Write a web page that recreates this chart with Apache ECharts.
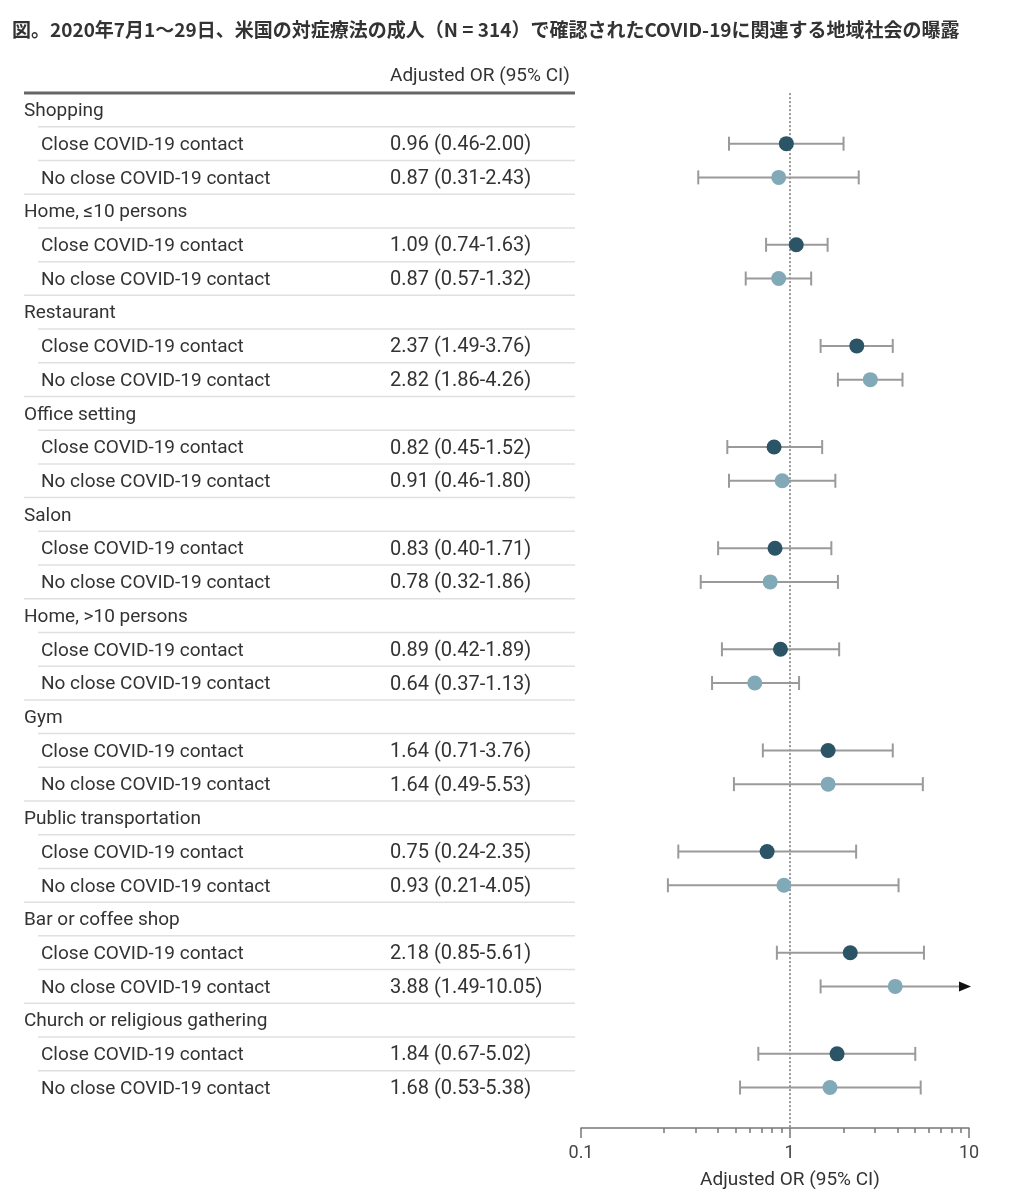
<!DOCTYPE html>
<html>
<head>
<meta charset="utf-8">
<script src="https://cdn.jsdelivr.net/npm/echarts@6/dist/echarts.min.js"></script>
<style>
  html, body { margin: 0; padding: 0; background: #fff; }
  #chart { width: 1020px; height: 1200px; }
</style>
</head>
<body>
<div id="chart"></div>
<script>
const titleText = '図。2020年7月1～29日、米国の対症療法の成人（N = 314）で確認されたCOVID-19に関連する地域社会の曝露';
const headerText = 'Adjusted OR (95% CI)';
const subLabels = ['Close COVID-19 contact', 'No close COVID-19 contact'];

const groups = ['Shopping', 'Home, ≤10 persons', 'Restaurant', 'Office setting', 'Salon',
  'Home, >10 persons', 'Gym', 'Public transportation', 'Bar or coffee shop', 'Church or religious gathering'];

const closeOR = [0.96, 1.09, 2.37, 0.82, 0.83, 0.89, 1.64, 0.75, 2.18, 1.84];
const closeLo = [0.46, 0.74, 1.49, 0.45, 0.40, 0.42, 0.71, 0.24, 0.85, 0.67];
const closeHi = [2.00, 1.63, 3.76, 1.52, 1.71, 1.89, 3.76, 2.35, 5.61, 5.02];

const noCloseOR = [0.87, 0.87, 2.82, 0.91, 0.78, 0.64, 1.64, 0.93, 3.88, 1.68];
const noCloseLo = [0.31, 0.57, 1.86, 0.46, 0.32, 0.37, 0.49, 0.21, 1.49, 0.53];
const noCloseHi = [2.43, 1.32, 4.26, 1.80, 1.86, 1.13, 5.53, 4.05, 10.05, 5.38];

// axis: left end is labelled 0.1 in the figure (broken axis), then log ticks
const axisLabels = ['0.1', '1', '10'];
const minorTicks = [0.2, 0.3, 0.4, 0.5, 0.6, 0.7, 0.8, 0.9, 2, 3, 4, 5, 6, 7, 8, 9];
const axisMinLog = -1.162;
const axisMaxLog = 1;

const DARK = '#2b5566';
const LIGHT = '#82a9b8';
const FONT = 'Roboto';

const fmt = v => v.toFixed(2);
const lg = v => Math.log10(v);

// table rows: group header, close, no close
const rows = [];
groups.forEach((g, i) => {
  rows.push({ kind: 'group', label: g, value: '' });
  rows.push({ kind: 'sub', label: subLabels[0], value: `${fmt(closeOR[i])} (${fmt(closeLo[i])}-${fmt(closeHi[i])})` });
  rows.push({ kind: 'last', label: subLabels[1], value: `${fmt(noCloseOR[i])} (${fmt(noCloseLo[i])}-${fmt(noCloseHi[i])})` });
});
const nRows = rows.length;

const closeRows = groups.map((g, i) => i * 3 + 1);
const noCloseRows = groups.map((g, i) => i * 3 + 2);

const errData = [];
groups.forEach((g, i) => {
  errData.push([lg(closeLo[i]), lg(closeHi[i]), closeRows[i]]);
  errData.push([lg(noCloseLo[i]), lg(noCloseHi[i]), noCloseRows[i]]);
});

const chart = echarts.init(document.getElementById('chart'));

function renderTable(params, api) {
  const i = params.dataIndex;
  const y = api.coord([axisMinLog, i])[1] + 1.5;
  const yNext = api.coord([axisMinLog, i + 0.5])[1];
  const yPrev = api.coord([axisMinLog, i - 0.5])[1];
  const yHead = api.coord([axisMinLog, i - 1])[1];
  const r = rows[i];
  const children = [];
  const textEl = (x, txt, size) => ({
    type: 'text',
    style: { x: x, y: y, text: txt, fill: '#333', font: `${size}px ${FONT}`, textVerticalAlign: 'middle', textAlign: 'left' }
  });
  children.push(textEl(r.kind === 'group' ? 24 : 41, r.label, 19));
  if (r.value) children.push(textEl(390, r.value, 20));
  if (i < nRows - 1) {
    children.push({
      type: 'line',
      shape: { x1: r.kind === 'last' ? 24 : 38, y1: yNext, x2: 575, y2: yNext },
      style: { stroke: '#e0e0e0', lineWidth: 1.5 }
    });
  }
  if (i === 0) {
    children.push({
      type: 'line',
      shape: { x1: 24, y1: yPrev, x2: 575, y2: yPrev },
      style: { stroke: '#666', lineWidth: 3 }
    });
    children.push({
      type: 'text',
      style: { x: 390, y: yHead, text: headerText, fill: '#333', font: `19px ${FONT}`, textVerticalAlign: 'middle', textAlign: 'left' }
    });
  }
  return { type: 'group', children: children };
}

function renderErr(params, api) {
  const lo = api.value(0);
  const hi = api.value(1);
  const row = api.value(2);
  const p1 = api.coord([lo, row]);
  const over = hi > axisMaxLog;
  const p2 = api.coord([Math.min(hi, axisMaxLog), row]);
  const h = 7;
  const st = { stroke: '#9a9a9a', lineWidth: 2 };
  const children = [
    { type: 'line', shape: { x1: p1[0], y1: p1[1], x2: p2[0] - (over ? 8 : 0), y2: p2[1] }, style: st },
    { type: 'line', shape: { x1: p1[0], y1: p1[1] - h, x2: p1[0], y2: p1[1] + h }, style: st }
  ];
  if (over) {
    children.push({
      type: 'polygon',
      shape: { points: [[p2[0] + 2, p2[1]], [p2[0] - 10, p2[1] - 5], [p2[0] - 10, p2[1] + 5]] },
      style: { fill: '#111' }
    });
  } else {
    children.push({ type: 'line', shape: { x1: p2[0], y1: p2[1] - h, x2: p2[0], y2: p2[1] + h }, style: st });
  }
  return { type: 'group', children: children };
}

chart.setOption({
  animation: false,
  graphic: [{
    type: 'text',
    left: 12,
    top: 20,
    style: { text: titleText, fill: '#333', font: 'bold 19px "Noto Sans CJK JP"' }
  }],
  grid: { left: 581, right: 51, top: 93.1, bottom: 72 },
  xAxis: [{
    type: 'value',
    position: 'bottom',
    min: axisMinLog,
    max: axisMaxLog,
    splitLine: { show: false },
    axisLine: { show: true, onZero: false, lineStyle: { color: '#777', width: 1.5 } },
    axisTick: { show: true, length: 5, customValues: minorTicks.map(lg), lineStyle: { color: '#777', width: 1.5 } },
    axisLabel: { show: false },
    name: headerText,
    nameLocation: 'middle',
    nameGap: 43,
    nameTextStyle: { color: '#333', fontSize: 19, fontFamily: FONT, padding: [0, 0, 0, 30] }
  }, {
    type: 'value',
    position: 'bottom',
    min: axisMinLog,
    max: axisMaxLog,
    splitLine: { show: false },
    axisLine: { show: false, onZero: false },
    axisTick: { show: true, length: 10, customValues: [axisMinLog, 0, 1], lineStyle: { color: '#777', width: 1.5 } },
    axisLabel: {
      show: true,
      customValues: [axisMinLog, 0, 1],
      margin: 16,
      color: '#444',
      fontSize: 18,
      fontFamily: FONT,
      formatter: v => v < -1.05 ? axisLabels[0] : (Math.abs(v) < 1e-6 ? axisLabels[1] : axisLabels[2])
    }
  }],
  yAxis: {
    type: 'value',
    inverse: true,
    min: -0.5,
    max: 30.2,
    show: false
  },
  series: [
    {
      type: 'custom',
      name: 'table',
      data: rows.map((r, i) => [axisMinLog, i]),
      renderItem: renderTable,
      clip: false,
      silent: true,
      z: 1
    },
    {
      type: 'custom',
      name: 'ci',
      data: errData,
      encode: { x: [0, 1], y: 2 },
      renderItem: renderErr,
      clip: false,
      silent: true,
      z: 2
    },
    {
      type: 'scatter',
      name: 'Close COVID-19 contact',
      data: closeOR.map((v, i) => [lg(v), closeRows[i]]),
      symbolSize: 15,
      itemStyle: { color: DARK, opacity: 1 },
      z: 5,
      markLine: {
        silent: true,
        symbol: 'none',
        label: { show: false },
        lineStyle: { type: 'dotted', color: '#999', width: 2 },
        data: [{ xAxis: 0 }]
      }
    },
    {
      type: 'scatter',
      name: 'No close COVID-19 contact',
      data: noCloseOR.map((v, i) => [lg(v), noCloseRows[i]]),
      symbolSize: 15,
      itemStyle: { color: LIGHT, opacity: 1 },
      z: 5
    }
  ]
});
</script>
</body>
</html>
